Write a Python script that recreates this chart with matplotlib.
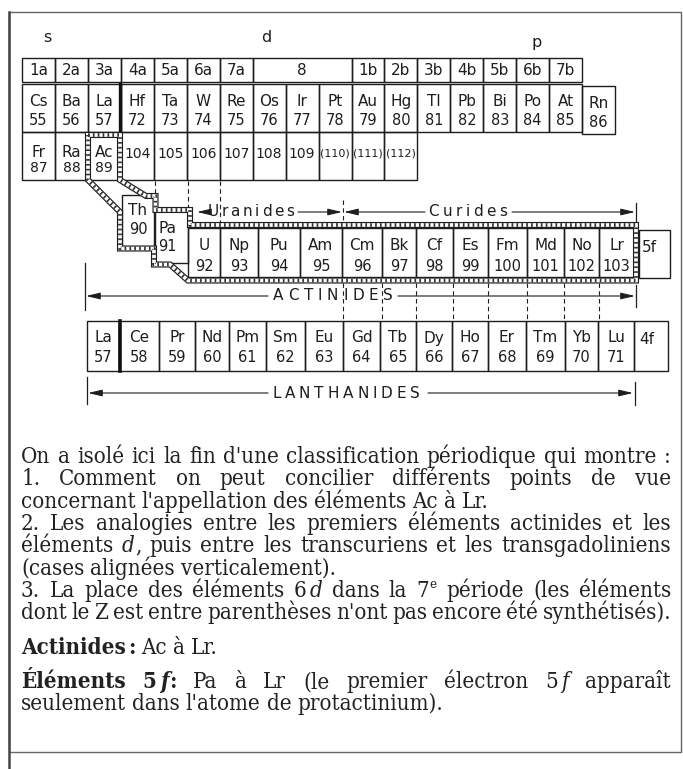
import matplotlib
matplotlib.use('Agg')
import matplotlib.pyplot as plt
from matplotlib.patches import Rectangle

# ---------------- data ----------------
block_labels = ['s', 'd', 'p']
group_labels = ['1a', '2a', '3a', '4a', '5a', '6a', '7a', '8',
                '1b', '2b', '3b', '4b', '5b', '6b', '7b']
group_spans = [1, 1, 1, 1, 1, 1, 1, 3, 1, 1, 1, 1, 1, 1, 1]
period6_symbols = ['Cs', 'Ba', 'La', 'Hf', 'Ta', 'W', 'Re', 'Os', 'Ir', 'Pt',
                   'Au', 'Hg', 'Tl', 'Pb', 'Bi', 'Po', 'At', 'Rn']
period6_numbers = ['55', '56', '57', '72', '73', '74', '75', '76', '77', '78',
                   '79', '80', '81', '82', '83', '84', '85', '86']
period7_symbols = ['Fr', 'Ra', 'Ac', '', '', '', '', '', '', '', '', '']
period7_numbers = ['87', '88', '89', '104', '105', '106', '107', '108', '109',
                   '(110)', '(111)', '(112)']
actinide_symbols = ['Th', 'Pa', 'U', 'Np', 'Pu', 'Am', 'Cm', 'Bk', 'Cf', 'Es',
                    'Fm', 'Md', 'No', 'Lr']
actinide_numbers = ['90', '91', '92', '93', '94', '95', '96', '97', '98', '99',
                    '100', '101', '102', '103']
lanthanide_symbols = ['La', 'Ce', 'Pr', 'Nd', 'Pm', 'Sm', 'Eu', 'Gd', 'Tb', 'Dy',
                      'Ho', 'Er', 'Tm', 'Yb', 'Lu']
lanthanide_numbers = ['57', '58', '59', '60', '61', '62', '63', '64', '65', '66',
                      '67', '68', '69', '70', '71']
series_labels = ['Uranides', 'Curides', 'ACTINIDES', 'LANTHANIDES']
shell_labels = ['5f', '4f']

# paragraph lines: (words, justified); a word is a str or a list of (text, style)
paragraph = [
    (["On", "a", "isolé", "ici", "la", "fin", "d'une", "classification", "périodique",
      "qui", "montre", ":"], True),
    (["1.", "Comment", "on", "peut", "concilier", "différents", "points", "de", "vue"], True),
    (["concernant", "l'appellation", "des", "éléments", "Ac", "à", "Lr."], False),
    (["2.", "Les", "analogies", "entre", "les", "premiers", "éléments", "actinides",
      "et", "les"], True),
    (["éléments", [("d", "i"), (",", "")], "puis", "entre", "les", "transcuriens", "et",
      "les", "transgadoliniens"], True),
    (["(cases", "alignées", "verticalement)."], False),
    (["3.", "La", "place", "des", "éléments", [("6", ""), ("0.12", "g"), ("d", "i")],
      "dans", "la", [("7", ""), ("e", "s")], "période", "(les", "éléments"], True),
    (["dont", "le", "Z", "est", "entre", "parenthèses", "n'ont", "pas", "encore", "été",
      "synthétisés)."], True),
    ([[("Actinides", "b"), ("0.06", "g"), (":", "b")], "Ac", "à", "Lr."], False),
    ([[("Éléments", "b")], [("5", "b"), ("0.12", "g"), ("f", "bi"), (":", "b")], "Pa", "à",
      "Lr", "(le", "premier", "électron", [("5", ""), ("0.12", "g"), ("f", "i")],
      "apparaît"], True),
    (["seulement", "dans", "l'atome", "de", "protactinium)."], False),
]

# ---------------- figure ----------------
W, H = 683, 769
fig = plt.figure(figsize=(W / 100, H / 100), dpi=100)
ax = fig.add_axes([0, 0, 1, 1])
ax.set_xlim(0, W)
ax.set_ylim(H, 0)
ax.axis('off')
renderer = fig.canvas.get_renderer()

INK = '#1e1e1e'
SANS = 'DejaVu Sans'
SERIF = 'DejaVu Serif'
LW = 1.0
SYM_FS = 11
NUM_FS = 10.5

def tw(s, **kw):
    t = ax.text(0, 0, s, **kw)
    w = t.get_window_extent(renderer).width
    t.remove()
    return w

def box(x0, y0, x1, y1, lw=LW):
    ax.add_patch(Rectangle((x0, y0), x1 - x0, y1 - y0, fill=False, lw=lw,
                           ec=INK, zorder=3))

def cell_text(x0, y0, x1, y1, sym, num, fs_frac=0.36, fn_frac=0.76,
              sfs=SYM_FS, nfs=NUM_FS, ha='center'):
    xc = (x0 + x1) / 2 if ha == 'center' else x0 + 3
    h = y1 - y0
    if sym:
        ax.text(xc, y0 + fs_frac * h, sym, ha=ha, va='center', fontsize=sfs,
                family=SANS, color=INK, zorder=4)
    if num:
        ax.text(xc, y0 + fn_frac * h, num, ha=ha, va='center', fontsize=nfs,
                family=SANS, color=INK, zorder=4)

def vdash(x, y0, y1):
    ax.plot([x, x], [y0, y1], color=INK, lw=0.8, ls=(0, (4, 3)), zorder=2)

def vline(x, y0, y1, lw=0.9):
    ax.plot([x, x], [y0, y1], color=INK, lw=lw, zorder=2)

def arrow(x0, x1, y):
    ax.annotate('', xy=(x1, y), xytext=(x0, y),
                arrowprops=dict(arrowstyle='-|>,head_length=0.85,head_width=0.2',
                                lw=0.8, color=INK, shrinkA=0, shrinkB=0,
                                mutation_scale=10), zorder=2)

def spaced(s, xc, y, width, fs=11):
    kw = dict(fontsize=fs, family=SANS, color=INK)
    ws = [tw(c, **kw) for c in s]
    gap = (width - sum(ws)) / (len(s) - 1)
    x = xc - width / 2
    for c, w in zip(s, ws):
        ax.text(x, y, c, ha='left', va='center', zorder=4, **kw)
        x += w + gap

# outer frame
ax.add_patch(Rectangle((9, 12), 672, 740, fill=False, lw=1.0, ec='#666666', zorder=1))
ax.plot([9, 9], [12, 769], color='#444444', lw=1.8, zorder=1)

# block labels
for lab, (x, y) in zip(block_labels, [(47, 38), (266, 38), (537, 42)]):
    ax.text(x, y, lab, ha='center', va='center', fontsize=11.5, family=SANS, color=INK)

# main table columns
cx0, cw = 22, 32.95
def colx(c):
    return cx0 + c * cw

# group header row
c = 0
for lab, sp in zip(group_labels, group_spans):
    box(colx(c), 58, colx(c + sp), 82)
    ax.text((colx(c) + colx(c + sp)) / 2, 70.5, lab, ha='center', va='center',
            fontsize=11, family=SANS, color=INK, zorder=4)
    c += sp

# period 6
for i, (s, n) in enumerate(zip(period6_symbols, period6_numbers)):
    y0 = 84 if i < 17 else 86
    box(colx(i), y0, colx(i + 1), y0 + 48)
    cell_text(colx(i), y0, colx(i + 1), y0 + 48, s, n, 0.37, 0.77)
ax.plot([colx(3) - 1.2, colx(3) - 1.2], [84, 132], color='#111111', lw=2.4, zorder=4)

# period 7
for i, (s, n) in enumerate(zip(period7_symbols, period7_numbers)):
    box(colx(i), 132, colx(i + 1), 180)
    if s:
        cell_text(colx(i), 132, colx(i + 1), 180, s, n, 0.42, 0.76, nfs=10)
    else:
        nfs = 8 if n.startswith('(') else 10
        ax.text((colx(i) + colx(i + 1)) / 2, 154, n, ha='center', va='center',
                fontsize=nfs, family=SANS, color=INK, zorder=4)

# actinide cells
th_box = (122, 195, 154, 247)
pa_box = (155, 211, 188, 263)
box(*th_box)
cell_text(*th_box, actinide_symbols[0], actinide_numbers[0], 0.30, 0.67)
box(*pa_box)
cell_text(*pa_box, actinide_symbols[1], actinide_numbers[1], 0.33, 0.69, ha='left')
act_edges = [188, 220, 258, 300, 342, 382, 416, 453, 488, 527, 564, 599, 634]
for i in range(len(act_edges) - 1):
    x0, x1 = act_edges[i], act_edges[i + 1]
    box(x0, 228, x1, 277)
    cell_text(x0, 228, x1, 277, actinide_symbols[i + 2], actinide_numbers[i + 2],
              0.35, 0.78)
box(639, 230, 670, 278)
ax.text(642, 247, shell_labels[0], ha='left', va='center', fontsize=11,
        family=SANS, color=INK, zorder=4)

# hatched band around Ac -> Lr
band_x = [88, 120, 120, 146, 155.5, 155.5, 190, 190, 636, 636, 188, 170, 154, 154,
          120, 120, 88, 88]
band_y = [135, 135, 180, 196, 196, 210, 210, 225, 225, 280.5, 280.5, 264.5, 264.5,
          248.5, 248.5, 212, 180, 135]
ax.plot(band_x, band_y, color=INK, lw=4.4, solid_joinstyle='miter', zorder=5)
ax.plot(band_x, band_y, color='white', lw=2.7, solid_joinstyle='miter', zorder=6)
ax.plot(band_x, band_y, color='#333333', lw=2.7, ls=(0, (0.45, 0.85)), zorder=7)

# dashed alignment lines
vdash(155, 181, 194)
vdash(188, 181, 209)
vdash(220, 181, 223)
vdash(343, 200, 223)
for x in [343, 382, 416, 453, 488, 527, 564, 599]:
    vdash(x, 283, 320)

# Uranides / Curides arrows
y_u = 212
arrow(206, 197, y_u)
spaced(series_labels[0], 251, y_u, 87)
arrow(298, 342, y_u)
arrow(425, 344, y_u)
spaced(series_labels[1], 468, y_u, 79)
arrow(512, 635, y_u)
vline(636, 203, 224)

# ACTINIDES
y_a = 296
vline(85, 263, 310)
arrow(268, 86, y_a)
spaced(series_labels[2], 333, y_a, 120)
arrow(398, 635, y_a)
vline(636, 285, 307)

# lanthanide row
lan_edges = [87, 119, 159, 195, 229, 266, 305, 343, 380, 416, 452, 488, 526, 565,
             598, 634]
for i in range(len(lan_edges) - 1):
    x0, x1 = lan_edges[i], lan_edges[i + 1]
    box(x0, 321, x1, 371)
    cell_text(x0, 321, x1, 371, lanthanide_symbols[i], lanthanide_numbers[i], 0.34, 0.74)
box(634, 321, 668, 371)
ax.text(639, 339, shell_labels[1], ha='left', va='center', fontsize=11,
        family=SANS, color=INK, zorder=4)
ax.plot([119.5, 119.5], [321, 371], color='#111111', lw=2.6, zorder=4)

# LANTHANIDES
y_l = 393
vline(87, 377, 404)
arrow(268, 88, y_l)
spaced(series_labels[3], 346, y_l, 148)
arrow(428, 633, y_l)
vline(635, 382, 405)

# ---------------- paragraph ----------------
def seg_kw(style, fs):
    kw = dict(family=SERIF, fontsize=fs, color='#222222', fontstretch='condensed')
    if 'b' in style:
        kw['fontweight'] = 'bold'
    if 'i' in style:
        kw['fontstyle'] = 'italic'
    if 's' in style:
        kw['fontsize'] = fs * 0.6
    return kw

def segs(w):
    return [(w, '')] if isinstance(w, str) else w

SEG_GAP = 0.03

def word_width(w, fs):
    px = fs * 100 / 72
    tot = 0.0
    for txt, st in segs(w):
        if st == 'g':
            tot += float(txt) * px
        else:
            tot += tw(txt, **seg_kw(st, fs)) + SEG_GAP * px
    return tot - SEG_GAP * px

def draw_word(w, x, base, fs):
    px = fs * 100 / 72
    for txt, st in segs(w):
        if st == 'g':
            x += float(txt) * px
            continue
        kw = seg_kw(st, fs)
        yy = base - 0.38 * px if 's' in st else base
        ax.text(x, yy, txt, ha='left', va='baseline', zorder=4, **kw)
        x += tw(txt, **kw) + SEG_GAP * px

X_L, X_R = 21, 671
SPACE = 0.27
MIN_SPACE = 0.16
fs0 = 10
w1 = sum(word_width(w, fs0) for w in paragraph[0][0])
w1 += SPACE * fs0 * 100 / 72 * (len(paragraph[0][0]) - 1)
FS = min(fs0 * (X_R - X_L) / w1, 16.0)

line_y = [455, 477.3, 499.6, 521.9, 544.2, 566.5, 588.8, 611, 646, 680, 702]
for (words, just), yc in zip(paragraph, line_y):
    fs = FS
    widths = [word_width(w, fs) for w in words]
    if just:
        need = sum(widths) + MIN_SPACE * fs * 100 / 72 * (len(words) - 1)
        if need > X_R - X_L:
            fs = fs * (X_R - X_L) / need
            widths = [word_width(w, fs) for w in words]
        gap = (X_R - X_L - sum(widths)) / (len(words) - 1)
    else:
        gap = SPACE * fs * 100 / 72
    x = X_L
    base = yc + 0.36 * fs * 100 / 72
    for w, wd in zip(words, widths):
        draw_word(w, x, base, fs)
        x += wd + gap

fig.savefig('out.png', dpi=100)
